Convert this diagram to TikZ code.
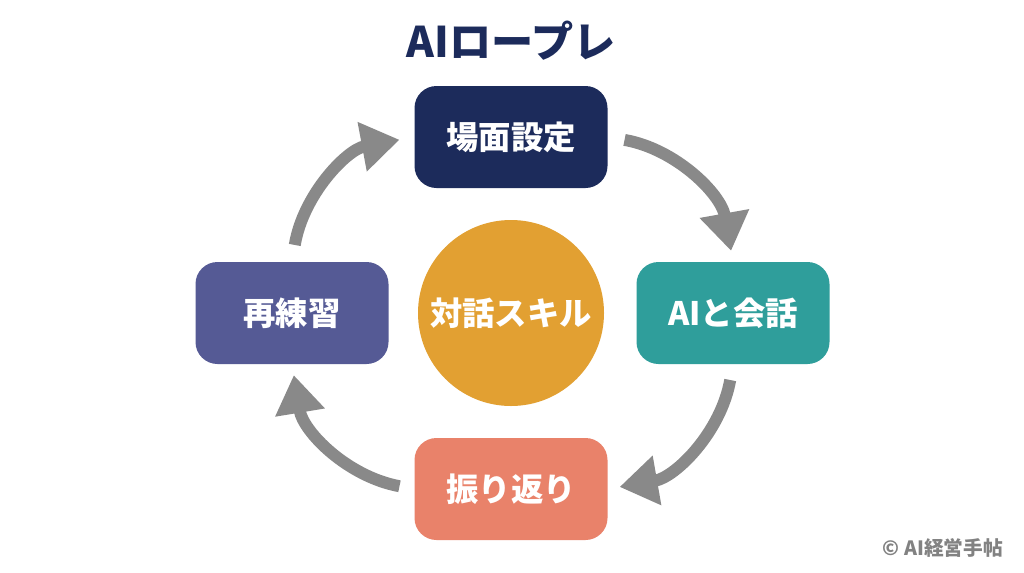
\documentclass[tikz,border=0pt]{standalone}
\usepackage{fontspec}
\usetikzlibrary{arrows.meta,positioning}
\newfontfamily\jpfont{Noto Sans CJK JP}
\definecolor{navy}{HTML}{1C2B5B}
\definecolor{teal2}{HTML}{2F9E9B}
\definecolor{salmon}{HTML}{E9826A}
\definecolor{violet2}{HTML}{555A95}
\definecolor{amber}{HTML}{E2A032}
\definecolor{arrowgray}{HTML}{898989}
\tikzset{
  stepbox/.style={rounded corners=22*0.025cm,minimum width=193*0.025cm,minimum height=102*0.025cm,
    text=white,font=\jpfont\bfseries\fontsize{23}{26}\selectfont},
  cycarrow/.style={draw=arrowgray,line width=8.5pt,bend left=35,
    -{Triangle[width=34pt,length=27pt]}}
}

\begin{document}
\begin{tikzpicture}[x=0.025cm,y=-0.025cm]
\fill[white] (0,0) rectangle (1024,572);
\useasboundingbox (0,0) rectangle (1024,572);

\node[text=navy,font=\jpfont\bfseries\fontsize{30}{34}\selectfont] (title) at (511,41) {AIロープレ};

\node[stepbox,fill=navy] (scene) at (511,137) {場面設定};
\node[stepbox,fill=teal2] (talk) at (733,313) {AIと会話};
\node[stepbox,fill=salmon] (review) at (511,489) {振り返り};
\node[stepbox,fill=violet2] (retry) at (292,313) {再練習};
\node[circle,fill=amber,minimum size=186*0.025cm,text=white,
  font=\jpfont\bfseries\fontsize{23}{26}\selectfont] (skill) at (511,313) {対話スキル};

\draw[cycarrow,shorten <=17*0.025cm,shorten >=11*0.025cm] (scene.east) to (talk.north);
\draw[cycarrow,shorten <=16*0.025cm,shorten >=12*0.025cm] (talk.south) to (review.east);
\draw[cycarrow,shorten <=15*0.025cm,shorten >=11*0.025cm] (review.west) to (retry.south);
\draw[cycarrow,shorten <=17*0.025cm,shorten >=15*0.025cm] (retry.north) to (scene.west);

\node[text=arrowgray!95!black,font=\jpfont\bfseries\fontsize{14}{16}\selectfont,anchor=east] (copy) at (1008,548) {© AI経営手帖};
\end{tikzpicture}
\end{document}
